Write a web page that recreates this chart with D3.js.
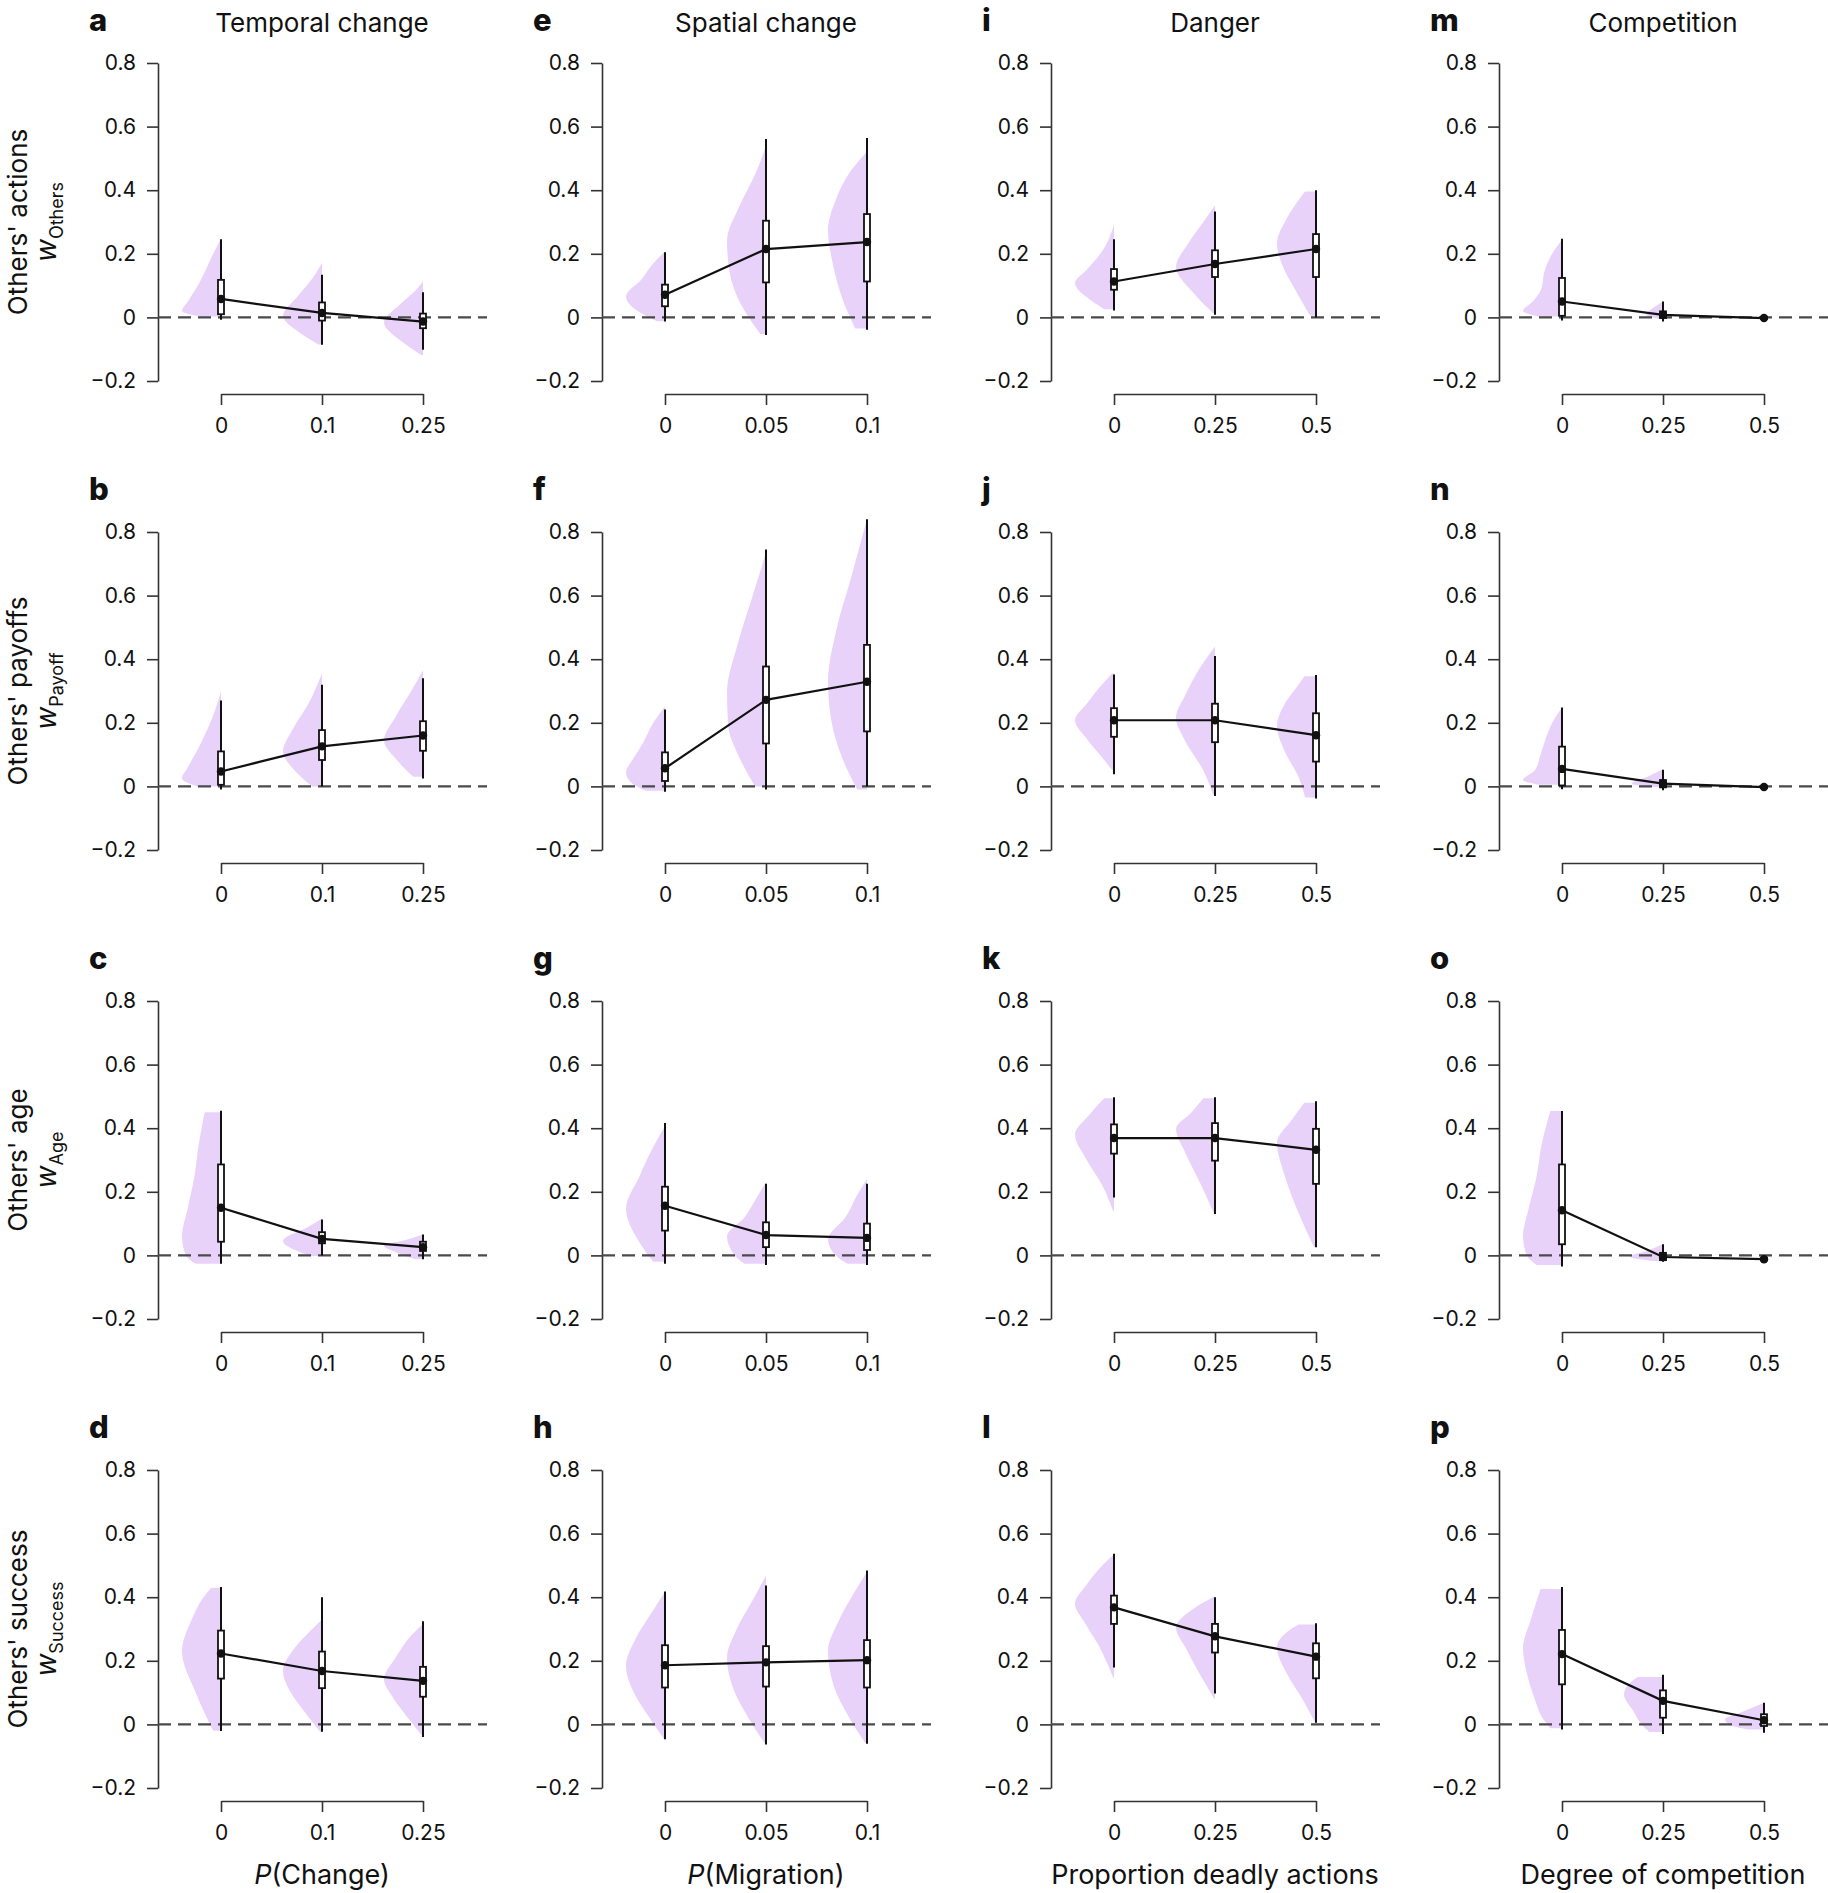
<!DOCTYPE html>
<html>
<head>
<meta charset="utf-8">
<script src="https://cdn.jsdelivr.net/npm/d3@7"></script>
<style>
  body { margin: 0; background: #fff; }
  text { font-family: Inter, "Noto Sans", sans-serif; fill: #111; }
</style>
</head>
<body>
<div id="chart"></div>
<script>
// ---- labels ----
const rowLabels = ["Others' actions", "Others' payoffs", "Others' age", "Others' success"];
const rowSubs = ["Others", "Payoff", "Age", "Success"];
const colTitles = ["Temporal change", "Spatial change", "Danger", "Competition"];
const colXItalic = ["P", "P", "", ""];
const colXTitles = ["(Change)", "(Migration)", "Proportion deadly actions", "Degree of competition"];
const colCats = [["0", "0.1", "0.25"], ["0", "0.05", "0.1"], ["0", "0.25", "0.5"], ["0", "0.25", "0.5"]];
const panelLetters = [["a", "e", "i", "m"], ["b", "f", "j", "n"], ["c", "g", "k", "o"], ["d", "h", "l", "p"]];
const yTicks = [-0.2, 0, 0.2, 0.4, 0.6, 0.8];

// ---- values, indexed [row][col][category] ----
const medians = [
  [[0.058, 0.014, -0.013], [0.071, 0.215, 0.237], [0.113, 0.168, 0.215], [0.05, 0.008, -0.002]],
  [[0.047, 0.126, 0.16], [0.057, 0.272, 0.329], [0.208, 0.208, 0.161], [0.055, 0.009, -0.002]],
  [[0.15, 0.052, 0.026], [0.156, 0.064, 0.055], [0.369, 0.369, 0.332], [0.142, -0.005, -0.012]],
  [[0.223, 0.168, 0.137], [0.186, 0.195, 0.202], [0.368, 0.277, 0.213], [0.221, 0.074, 0.013]]
];
const boxLo = [
  [[0.01, -0.01, -0.034], [0.035, 0.11, 0.113], [0.087, 0.127, 0.127], [0.005, -0.002, -0.005]],
  [[0.005, 0.083, 0.112], [0.017, 0.135, 0.173], [0.156, 0.139, 0.078], [0.003, -0.003, -0.005]],
  [[0.043, 0.038, 0.014], [0.078, 0.026, 0.017], [0.32, 0.298, 0.225], [0.035, -0.015, -0.016]],
  [[0.144, 0.114, 0.087], [0.116, 0.119, 0.116], [0.316, 0.226, 0.145], [0.126, 0.021, -0.005]]
];
const boxHi = [
  [[0.118, 0.047, 0.012], [0.103, 0.304, 0.325], [0.152, 0.211, 0.262], [0.124, 0.019, 0.001]],
  [[0.11, 0.177, 0.205], [0.107, 0.377, 0.445], [0.246, 0.26, 0.23], [0.125, 0.02, 0.001]],
  [[0.286, 0.073, 0.043], [0.216, 0.104, 0.1], [0.412, 0.416, 0.398], [0.286, 0.008, -0.008]],
  [[0.295, 0.229, 0.181], [0.249, 0.246, 0.265], [0.405, 0.316, 0.255], [0.297, 0.107, 0.032]]
];
const whiskLo = [
  [[-0.007, -0.086, -0.102], [-0.013, -0.055, -0.039], [0.022, 0.008, 0.0], [-0.01, -0.013, -0.006]],
  [[-0.01, 0.0, 0.025], [-0.017, -0.01, 0.0], [0.038, -0.03, -0.038], [-0.009, -0.012, -0.007]],
  [[-0.026, 0.0, -0.012], [-0.026, -0.03, -0.03], [0.182, 0.13, 0.026], [-0.035, -0.02, -0.018]],
  [[-0.021, -0.023, -0.04], [-0.047, -0.063, -0.061], [0.179, 0.097, 0.005], [-0.016, -0.03, -0.026]]
];
const whiskHi = [
  [[0.246, 0.134, 0.079], [0.205, 0.561, 0.564], [0.246, 0.333, 0.4], [0.247, 0.05, 0.002]],
  [[0.27, 0.32, 0.34], [0.242, 0.745, 0.84], [0.352, 0.41, 0.35], [0.248, 0.052, 0.003]],
  [[0.455, 0.113, 0.066], [0.416, 0.225, 0.225], [0.497, 0.497, 0.485], [0.454, 0.035, -0.006]],
  [[0.432, 0.4, 0.324], [0.418, 0.437, 0.484], [0.537, 0.4, 0.318], [0.432, 0.156, 0.068]]
];

// violin outlines: [value, relative density]
const violins = [
  [
    [[[0.003, 0.55], [0.02, 1], [0.05, 0.85], [0.11, 0.55], [0.2, 0.2], [0.248, 0]],
     [[-0.085, 0.1], [-0.05, 0.55], [0.005, 1], [0.07, 0.6], [0.14, 0.15], [0.172, 0]],
     [[-0.118, 0.05], [-0.08, 0.5], [-0.015, 1], [0.04, 0.6], [0.09, 0.15], [0.114, 0]]],
    [[[-0.012, 0.2], [0.02, 0.7], [0.066, 1], [0.12, 0.6], [0.17, 0.3], [0.205, 0.02]],
     [[-0.052, 0.15], [0.05, 0.68], [0.14, 0.93], [0.24, 1], [0.35, 0.68], [0.455, 0.26], [0.54, 0]],
     [[-0.035, 0.3], [0.055, 0.62], [0.17, 0.88], [0.276, 1], [0.37, 0.8], [0.455, 0.45], [0.522, 0]]],
    [[[0.026, 0.25], [0.05, 0.55], [0.108, 1], [0.15, 0.7], [0.2, 0.35], [0.25, 0.12], [0.291, 0]],
     [[0.014, 0.05], [0.07, 0.5], [0.16, 1], [0.23, 0.7], [0.3, 0.3], [0.352, 0]],
     [[0.005, 0.15], [0.08, 0.5], [0.16, 0.85], [0.234, 1], [0.3, 0.8], [0.36, 0.5], [0.396, 0.28]]],
    [[[0.003, 0.6], [0.02, 1], [0.05, 0.75], [0.09, 0.53], [0.14, 0.46], [0.19, 0.3], [0.245, 0]],
     [[-0.005, 0.1], [0.008, 0.43], [0.03, 0.25], [0.05, 0]],
     [[-0.004, 0], [-0.001, 0.5], [0.003, 0]]]
  ],
  [
    [[[0.0, 0.6], [0.025, 1], [0.06, 0.85], [0.14, 0.5], [0.24, 0.15], [0.3, 0]],
     [[0.0, 0.25], [0.05, 0.7], [0.11, 1], [0.18, 0.75], [0.26, 0.35], [0.355, 0]],
     [[0.03, 0.25], [0.08, 0.65], [0.145, 1], [0.22, 0.7], [0.3, 0.3], [0.365, 0]]],
    [[[-0.014, 0.5], [0.01, 0.85], [0.043, 1], [0.09, 0.8], [0.14, 0.55], [0.2, 0.3], [0.248, 0.02]],
     [[0.0, 0.28], [0.1, 0.72], [0.19, 0.97], [0.295, 1], [0.45, 0.72], [0.6, 0.34], [0.736, 0]],
     [[-0.01, 0.25], [0.1, 0.67], [0.21, 0.92], [0.33, 1], [0.485, 0.8], [0.66, 0.4], [0.84, 0]]],
    [[[0.052, 0.05], [0.09, 0.3], [0.15, 0.7], [0.208, 1], [0.26, 0.7], [0.31, 0.38], [0.355, 0.05]],
     [[-0.026, 0.05], [0.05, 0.3], [0.14, 0.75], [0.216, 1], [0.29, 0.75], [0.37, 0.4], [0.44, 0]],
     [[-0.035, 0.28], [0.03, 0.45], [0.11, 0.8], [0.19, 1], [0.26, 0.8], [0.32, 0.45], [0.346, 0.3]]],
    [[[0.005, 0.6], [0.02, 1], [0.05, 0.7], [0.1, 0.55], [0.15, 0.42], [0.2, 0.25], [0.248, 0]],
     [[-0.002, 0.2], [0.008, 0.8], [0.03, 0.4], [0.055, 0]],
     [[-0.005, 0], [-0.001, 0.5], [0.004, 0]]]
  ],
  [
    [[[-0.026, 0.65], [0.0, 0.9], [0.06, 1], [0.15, 0.85], [0.25, 0.68], [0.35, 0.57], [0.45, 0.42]],
     [[-0.002, 0.3], [0.045, 1], [0.09, 0.35], [0.115, 0]],
     [[-0.012, 0.2], [0.01, 0.7], [0.03, 1], [0.05, 0.4], [0.066, 0]]],
    [[[-0.02, 0.3], [0.05, 0.7], [0.147, 1], [0.25, 0.65], [0.33, 0.35], [0.407, 0]],
     [[-0.026, 0.55], [0.0, 0.8], [0.06, 1], [0.12, 0.55], [0.18, 0.25], [0.23, 0]],
     [[-0.026, 0.5], [0.0, 0.8], [0.05, 1], [0.12, 0.55], [0.19, 0.25], [0.24, 0]]],
    [[[0.139, 0.02], [0.22, 0.3], [0.3, 0.7], [0.381, 1], [0.44, 0.65], [0.494, 0.25]],
     [[0.13, 0.02], [0.22, 0.35], [0.32, 0.75], [0.398, 1], [0.45, 0.6], [0.494, 0.3]],
     [[0.026, 0.05], [0.12, 0.4], [0.25, 0.8], [0.355, 1], [0.43, 0.6], [0.48, 0.3]]],
    [[[-0.03, 0.65], [0.0, 0.9], [0.06, 1], [0.15, 0.85], [0.25, 0.65], [0.35, 0.52], [0.454, 0.3]],
     [[-0.018, 0.2], [-0.004, 0.85], [0.015, 0.4], [0.035, 0]],
     [[-0.015, 0], [-0.011, 0.5], [-0.007, 0]]]
  ],
  [
    [[[-0.02, 0.2], [0.03, 0.4], [0.1, 0.65], [0.23, 1], [0.33, 0.75], [0.4, 0.45], [0.43, 0.25]],
     [[-0.023, 0.05], [0.04, 0.45], [0.1, 0.8], [0.168, 1], [0.24, 0.7], [0.3, 0.25], [0.33, 0]],
     [[-0.032, 0.05], [0.03, 0.45], [0.09, 0.8], [0.142, 1], [0.21, 0.7], [0.28, 0.3], [0.316, 0]]],
    [[[-0.047, 0.02], [0.03, 0.45], [0.1, 0.8], [0.184, 1], [0.27, 0.75], [0.35, 0.35], [0.416, 0]],
     [[-0.062, 0.02], [0.02, 0.45], [0.1, 0.8], [0.21, 1], [0.3, 0.75], [0.4, 0.3], [0.468, 0]],
     [[-0.058, 0.05], [0.02, 0.45], [0.12, 0.85], [0.232, 1], [0.32, 0.75], [0.41, 0.35], [0.479, 0]]],
    [[[0.147, 0.02], [0.25, 0.4], [0.32, 0.75], [0.379, 1], [0.44, 0.7], [0.5, 0.3], [0.535, 0]],
     [[0.081, 0.02], [0.16, 0.4], [0.24, 0.75], [0.305, 1], [0.36, 0.6], [0.4, 0.05]],
     [[0.005, 0.02], [0.08, 0.35], [0.16, 0.75], [0.242, 1], [0.29, 0.75], [0.314, 0.45]]],
    [[[-0.012, 0.3], [0.02, 0.5], [0.08, 0.7], [0.16, 0.9], [0.24, 1], [0.33, 0.8], [0.426, 0.55]],
     [[-0.024, 0.35], [0.0, 0.55], [0.04, 0.75], [0.095, 1], [0.13, 0.85], [0.149, 0.65]],
     [[-0.016, 0.4], [0.0, 0.9], [0.016, 1], [0.04, 0.55], [0.068, 0]]]
  ]
];

// ---- layout ----
const width = 1828;
const height = 1893;
const panelLeft = [158, 602, 1051, 1499];
const panelTop = [63, 532, 1001, 1470];
const plotH = 318;
const violinColor = "#e9d2fa";
const axisColor = "#333";

const svg = d3.select("#chart")
  .append("svg")
    .attr("width", width)
    .attr("height", height)
    .attr("viewBox", `0 0 ${width} ${height}`);

const yScale = d3.scaleLinear().domain([-0.2, 0.8]).range([plotH, 0]);
const densityScale = d3.scaleLinear().domain([0, 1]).range([0, 39]);
const fmt = d => d === 0 ? "0" : d3.format(".1f")(d);

rowLabels.forEach((rowLabel, r) => {
  colTitles.forEach((colTitle, c) => {
    const g = svg.append("g")
      .attr("transform", `translate(${panelLeft[c]}, ${panelTop[r]})`);

    const xScale = d3.scalePoint()
      .domain(colCats[c])
      .range([63, 265]);

    // y axis
    const yAxis = g.append("g")
      .attr("class", "axis axis-y")
      .call(d3.axisLeft(yScale).tickValues(yTicks).tickFormat(fmt)
        .tickSize(11).tickSizeOuter(0).tickPadding(11));

    // x axis
    const xAxis = g.append("g")
      .attr("class", "axis axis-x")
      .attr("transform", `translate(0, ${plotH + 13})`)
      .call(d3.axisBottom(xScale).tickSize(11).tickSizeOuter(0).tickPadding(13));

    [yAxis, xAxis].forEach(ax => {
      ax.selectAll("path, line").attr("stroke", axisColor).attr("stroke-width", 1.6);
      ax.selectAll("text")
        .attr("fill", "#111")
        .style("font-size", "21px")
        .style("font-family", "Inter, 'Noto Sans', sans-serif");
    });

    // half violins
    const area = d3.area()
      .curve(d3.curveMonotoneY)
      .y(k => yScale(k[0]));
    violins[r][c].forEach((knots, i) => {
      const cx = xScale(colCats[c][i]);
      g.append("path")
        .datum(knots)
        .attr("d", area.x0(k => cx - densityScale(k[1])).x1(cx))
        .attr("fill", violinColor);
    });

    // zero line
    g.append("line")
      .attr("x1", 0)
      .attr("x2", xScale(colCats[c][2]) + 64)
      .attr("y1", yScale(0))
      .attr("y2", yScale(0))
      .attr("stroke", "#4a4a4a")
      .attr("stroke-width", 2.2)
      .attr("stroke-dasharray", "13,7");

    const cats = colCats[c].map((cat, i) => ({
      x: xScale(cat),
      med: medians[r][c][i],
      lo: boxLo[r][c][i],
      hi: boxHi[r][c][i],
      wlo: whiskLo[r][c][i],
      whi: whiskHi[r][c][i]
    }));

    // whiskers
    g.selectAll(".whisker")
      .data(cats)
      .join("line")
        .attr("class", "whisker")
        .attr("x1", d => d.x)
        .attr("x2", d => d.x)
        .attr("y1", d => yScale(d.wlo))
        .attr("y2", d => yScale(d.whi))
        .attr("stroke", "#111")
        .attr("stroke-width", 2);

    // boxes
    g.selectAll(".box")
      .data(cats)
      .join("rect")
        .attr("class", "box")
        .attr("x", d => d.x - 3)
        .attr("width", 6)
        .attr("y", d => yScale(d.hi))
        .attr("height", d => yScale(d.lo) - yScale(d.hi))
        .attr("fill", "#fff")
        .attr("stroke", "#111")
        .attr("stroke-width", 1.8);

    // median line + dots
    g.append("path")
      .datum(cats)
      .attr("d", d3.line().x(d => d.x).y(d => yScale(d.med)))
      .attr("fill", "none")
      .attr("stroke", "#111")
      .attr("stroke-width", 2.2);

    g.selectAll(".med")
      .data(cats)
      .join("circle")
        .attr("class", "med")
        .attr("cx", d => d.x)
        .attr("cy", d => yScale(d.med))
        .attr("r", 4.2)
        .attr("fill", "#111");

    // panel letter
    g.append("text")
      .attr("x", -69)
      .attr("y", -32)
      .style("font-size", "31px")
      .style("font-weight", "800")
      .text(panelLetters[r][c]);

    // column title
    if (r === 0) {
      g.append("text")
        .attr("x", xScale(colCats[c][1]))
        .attr("y", -31)
        .attr("text-anchor", "middle")
        .style("font-size", "26px")
        .text(colTitle);
    }

    // x title
    if (r === rowLabels.length - 1) {
      const t = g.append("text")
        .attr("x", xScale(colCats[c][1]))
        .attr("y", 414)
        .attr("text-anchor", "middle")
        .style("font-size", "27px");
      if (colXItalic[c]) t.append("tspan").style("font-style", "italic").text(colXItalic[c]);
      t.append("tspan").text(colXTitles[c]);
    }

    // y labels
    if (c === 0) {
      const mid = plotH / 2;
      g.append("text")
        .attr("transform", `translate(${27 - panelLeft[c]}, ${mid}) rotate(-90)`)
        .attr("text-anchor", "middle")
        .style("font-size", "26px")
        .text(rowLabel);
      const w = g.append("text")
        .attr("transform", `translate(${56 - panelLeft[c]}, ${mid}) rotate(-90)`)
        .attr("text-anchor", "middle");
      w.append("tspan").style("font-style", "italic").style("font-size", "28px").text("w");
      w.append("tspan").attr("dy", 7).style("font-size", "18px").text(rowSubs[r]);
    }
  });
});
</script>
</body>
</html>
